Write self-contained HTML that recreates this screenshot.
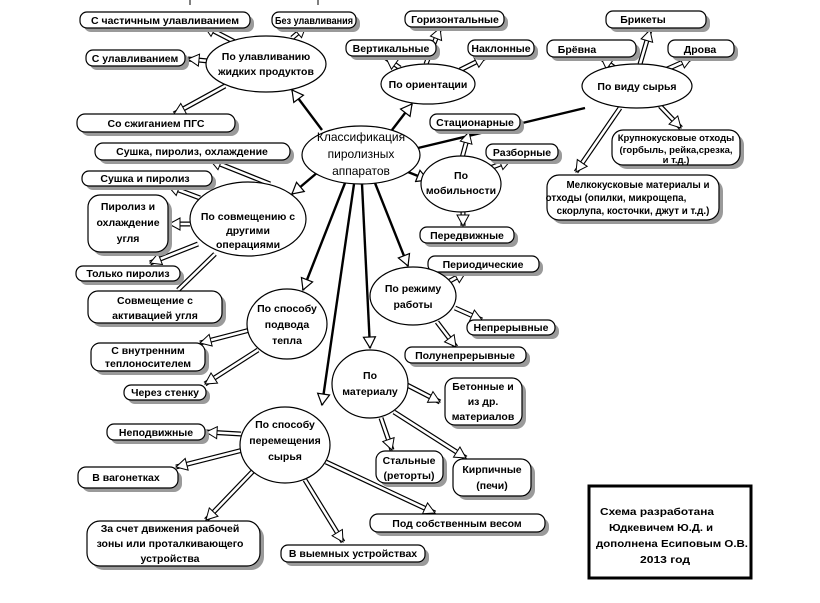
<!DOCTYPE html>
<html><head><meta charset="utf-8"><style>
body{margin:0;background:#fff}
svg{display:block}
text{font-family:"Liberation Sans","DejaVu Sans",sans-serif;font-weight:bold;font-size:10.5px;fill:#000;text-anchor:middle}
.sh{fill:#9a9a9a}
.bx{fill:#fff;stroke:#000;stroke-width:1.2}
.el{fill:#fff;stroke:#000;stroke-width:1.2}
.k{stroke:#000;stroke-width:2.4;fill:none}
.o{stroke:#000;stroke-width:5;fill:none}
.i{stroke:#fff;stroke-width:2.6;fill:none}
</style></head><body>
<svg width="820" height="603" viewBox="0 0 820 603" xmlns="http://www.w3.org/2000/svg">
<defs>
<marker id="h" markerUnits="userSpaceOnUse" markerWidth="14" markerHeight="14" refX="12" refY="7" orient="auto">
<path d="M1,1 L12,7 L1,13 Z" fill="#fff" stroke="#000" stroke-width="1"/></marker>
<marker id="b" markerUnits="userSpaceOnUse" markerWidth="14" markerHeight="14" refX="12" refY="7" orient="auto">
<path d="M1,1 L12,7 L1,13 Z" fill="#fff" stroke="#000" stroke-width="1.2"/></marker>
</defs>
<line x1="190" y1="0" x2="190" y2="5" stroke="#000"/>
<line x1="318" y1="0" x2="318" y2="5" stroke="#000"/>

<g class="k">
<line x1="322" y1="130" x2="292" y2="90" marker-end="url(#b)"/>
<line x1="392" y1="130" x2="412" y2="104" marker-end="url(#b)"/>
<line x1="418" y1="148" x2="585" y2="108"/>
<line x1="408" y1="172" x2="428" y2="180" marker-end="url(#b)"/>
<line x1="318" y1="172" x2="292" y2="194" marker-end="url(#b)"/>
<line x1="345" y1="183" x2="303" y2="290" marker-end="url(#b)"/>
<line x1="354" y1="184" x2="322" y2="405" marker-end="url(#b)"/>
<line x1="362" y1="184" x2="370" y2="348" marker-end="url(#b)"/>
<line x1="375" y1="183" x2="408" y2="266" marker-end="url(#b)"/>
</g>

<g>
<line class="o" x1="235" y1="42" x2="204" y2="26"/><line class="i" x1="235" y1="42" x2="204" y2="26" marker-end="url(#h)"/>
<line class="o" x1="292" y1="38" x2="306" y2="26"/><line class="i" x1="292" y1="38" x2="306" y2="26" marker-end="url(#h)"/>
<line class="o" x1="208" y1="61" x2="188" y2="59"/><line class="i" x1="208" y1="61" x2="188" y2="59" marker-end="url(#h)"/>
<line class="o" x1="225" y1="86" x2="174" y2="114"/><line class="i" x1="225" y1="86" x2="174" y2="114" marker-end="url(#h)"/>
<line class="o" x1="400" y1="68" x2="386" y2="58"/><line class="i" x1="400" y1="68" x2="386" y2="58" marker-end="url(#h)"/>
<line class="o" x1="426" y1="64" x2="440" y2="28"/><line class="i" x1="426" y1="64" x2="440" y2="28" marker-end="url(#h)"/>
<line class="o" x1="460" y1="70" x2="486" y2="57"/><line class="i" x1="460" y1="70" x2="486" y2="57" marker-end="url(#h)"/>
<line class="o" x1="615" y1="68" x2="601" y2="58"/><line class="i" x1="615" y1="68" x2="601" y2="58" marker-end="url(#h)"/>
<line class="o" x1="640" y1="64" x2="650" y2="30"/><line class="i" x1="640" y1="64" x2="650" y2="30" marker-end="url(#h)"/>
<line class="o" x1="665" y1="70" x2="692" y2="58"/><line class="i" x1="665" y1="70" x2="692" y2="58" marker-end="url(#h)"/>
<line class="o" x1="660" y1="106" x2="681" y2="128"/><line class="i" x1="660" y1="106" x2="681" y2="128" marker-end="url(#h)"/>
<line class="o" x1="620" y1="108" x2="576" y2="172"/><line class="i" x1="620" y1="108" x2="576" y2="172" marker-end="url(#h)"/>
<line class="o" x1="462" y1="158" x2="469" y2="132"/><line class="i" x1="462" y1="158" x2="469" y2="132" marker-end="url(#h)"/>
<line class="o" x1="490" y1="168" x2="511" y2="160"/><line class="i" x1="490" y1="168" x2="511" y2="160" marker-end="url(#h)"/>
<line class="o" x1="463" y1="212" x2="463" y2="226"/><line class="i" x1="463" y1="212" x2="463" y2="226" marker-end="url(#h)"/>
<line class="o" x1="270" y1="184" x2="210" y2="160"/><line class="i" x1="270" y1="184" x2="210" y2="160" marker-end="url(#h)"/>
<line class="o" x1="200" y1="198" x2="168" y2="186"/><line class="i" x1="200" y1="198" x2="168" y2="186" marker-end="url(#h)"/>
<line class="o" x1="190" y1="224" x2="169" y2="224"/><line class="i" x1="190" y1="224" x2="169" y2="224" marker-end="url(#h)"/>
<line class="o" x1="198" y1="244" x2="150" y2="263"/><line class="i" x1="198" y1="244" x2="150" y2="263" marker-end="url(#h)"/>
<line class="o" x1="215" y1="254" x2="178" y2="290"/>
<line class="i" x1="215" y1="254" x2="178" y2="290"/>
<line class="o" x1="250" y1="330" x2="200" y2="343"/><line class="i" x1="250" y1="330" x2="200" y2="343" marker-end="url(#h)"/>
<line class="o" x1="258" y1="350" x2="205" y2="384"/><line class="i" x1="258" y1="350" x2="205" y2="384" marker-end="url(#h)"/>
<line class="o" x1="448" y1="282" x2="466" y2="272"/><line class="i" x1="448" y1="282" x2="466" y2="272" marker-end="url(#h)"/>
<line class="o" x1="455" y1="308" x2="482" y2="320"/><line class="i" x1="455" y1="308" x2="482" y2="320" marker-end="url(#h)"/>
<line class="o" x1="437" y1="322" x2="456" y2="347"/><line class="i" x1="437" y1="322" x2="456" y2="347" marker-end="url(#h)"/>
<line class="o" x1="407" y1="385" x2="440" y2="402"/><line class="i" x1="407" y1="385" x2="440" y2="402" marker-end="url(#h)"/>
<line class="o" x1="381" y1="418" x2="392" y2="450"/><line class="i" x1="381" y1="418" x2="392" y2="450" marker-end="url(#h)"/>
<line class="o" x1="394" y1="412" x2="466" y2="458"/><line class="i" x1="394" y1="412" x2="466" y2="458" marker-end="url(#h)"/>
<line class="o" x1="241" y1="434" x2="206" y2="432"/><line class="i" x1="241" y1="434" x2="206" y2="432" marker-end="url(#h)"/>
<line class="o" x1="243" y1="450" x2="176" y2="467"/><line class="i" x1="243" y1="450" x2="176" y2="467" marker-end="url(#h)"/>
<line class="o" x1="256" y1="468" x2="206" y2="520"/><line class="i" x1="256" y1="468" x2="206" y2="520" marker-end="url(#h)"/>
<line class="o" x1="305" y1="480" x2="343" y2="542"/><line class="i" x1="305" y1="480" x2="343" y2="542" marker-end="url(#h)"/>
<line class="o" x1="326" y1="462" x2="435" y2="513"/><line class="i" x1="326" y1="462" x2="435" y2="513" marker-end="url(#h)"/>
</g>

<g>
<rect class="sh" x="84" y="16" width="170" height="16" rx="7"/><rect class="bx" x="80" y="12" width="170" height="16" rx="7"/><text x="165" y="24">С частичным улавливанием</text>
<rect class="sh" x="276" y="16" width="84" height="16" rx="7"/><rect class="bx" x="272" y="12" width="84" height="16" rx="7"/><text x="314" y="24" textLength="78" lengthAdjust="spacingAndGlyphs">Без улавливания</text>
<rect class="sh" x="90" y="54" width="99" height="16" rx="7"/><rect class="bx" x="86" y="50" width="99" height="16" rx="7"/><text x="135" y="62">С улавливанием</text>
<rect class="sh" x="81" y="118" width="158" height="18" rx="8"/><rect class="bx" x="77" y="114" width="158" height="18" rx="8"/><text x="156" y="127">Со сжиганием ПГС</text>
<rect class="sh" x="99" y="147" width="195" height="17" rx="8"/><rect class="bx" x="95" y="143" width="195" height="17" rx="8"/><text x="192" y="155">Сушка, пиролиз, охлаждение</text>
<rect class="sh" x="86" y="175" width="130" height="15" rx="7"/><rect class="bx" x="82" y="171" width="130" height="15" rx="7"/><text x="145" y="182">Сушка и пиролиз</text>
<rect class="sh" x="92" y="199" width="80" height="57" rx="12"/><rect class="bx" x="88" y="195" width="80" height="57" rx="12"/><text x="128" y="210">Пиролиз и</text><text x="128" y="226">охлаждение</text><text x="128" y="242">угля</text>
<rect class="sh" x="80" y="270" width="104" height="15" rx="7"/><rect class="bx" x="76" y="266" width="104" height="15" rx="7"/><text x="128" y="277">Только пиролиз</text>
<rect class="sh" x="92" y="295" width="134" height="32" rx="10"/><rect class="bx" x="88" y="291" width="134" height="32" rx="10"/><text x="155" y="304">Совмещение с</text><text x="155" y="319">активацией угля</text>
<rect class="sh" x="95" y="347" width="114" height="28" rx="9"/><rect class="bx" x="91" y="343" width="114" height="28" rx="9"/><text x="148" y="354">С внутренним</text><text x="148" y="367">теплоносителем</text>
<rect class="sh" x="128" y="389" width="82" height="15" rx="7"/><rect class="bx" x="124" y="385" width="82" height="15" rx="7"/><text x="165" y="396">Через стенку</text>
<rect class="sh" x="111" y="428" width="98" height="16" rx="7"/><rect class="bx" x="107" y="424" width="98" height="16" rx="7"/><text x="156" y="436">Неподвижные</text>
<rect class="sh" x="82" y="471" width="100" height="21" rx="8"/><rect class="bx" x="78" y="467" width="100" height="21" rx="8"/><text x="126" y="481">В вагонетках</text>
<rect class="sh" x="91" y="525" width="173" height="45" rx="13"/><rect class="bx" x="87" y="521" width="173" height="45" rx="13"/><text x="170" y="532">За счет движения рабочей</text><text x="170" y="547">зоны или проталкивающего</text><text x="170" y="562">устройства</text>
<rect class="sh" x="285" y="549" width="144" height="17" rx="7"/><rect class="bx" x="281" y="545" width="144" height="17" rx="7"/><text x="353" y="557">В выемных устройствах</text>
<rect class="sh" x="374" y="518" width="175" height="18" rx="8"/><rect class="bx" x="370" y="514" width="175" height="18" rx="8"/><text x="457" y="527">Под собственным весом</text>
<rect class="sh" x="380" y="455" width="67" height="32" rx="9"/><rect class="bx" x="376" y="451" width="67" height="32" rx="9"/><text x="409" y="464">Стальные</text><text x="409" y="479">(реторты)</text>
<rect class="sh" x="457" y="463" width="78" height="37" rx="10"/><rect class="bx" x="453" y="459" width="78" height="37" rx="10"/><text x="492" y="473">Кирпичные</text><text x="492" y="489">(печи)</text>
<rect class="sh" x="449" y="382" width="77" height="47" rx="10"/><rect class="bx" x="445" y="378" width="77" height="47" rx="10"/><text x="483" y="390">Бетонные и</text><text x="483" y="405">из др.</text><text x="483" y="420">материалов</text>
<rect class="sh" x="409" y="351" width="121" height="16" rx="7"/><rect class="bx" x="405" y="347" width="121" height="16" rx="7"/><text x="465" y="359">Полунепрерывные</text>
<rect class="sh" x="471" y="324" width="88" height="15" rx="7"/><rect class="bx" x="467" y="320" width="88" height="15" rx="7"/><text x="511" y="331">Непрерывные</text>
<rect class="sh" x="432" y="260" width="111" height="16" rx="7"/><rect class="bx" x="428" y="256" width="111" height="16" rx="7"/><text x="483" y="268">Периодические</text>
<rect class="sh" x="424" y="231" width="94" height="16" rx="7"/><rect class="bx" x="420" y="227" width="94" height="16" rx="7"/><text x="467" y="239">Передвижные</text>
<rect class="sh" x="490" y="148" width="72" height="16" rx="7"/><rect class="bx" x="486" y="144" width="72" height="16" rx="7"/><text x="522" y="156">Разборные</text>
<rect class="sh" x="434" y="118" width="90" height="16" rx="7"/><rect class="bx" x="430" y="114" width="90" height="16" rx="7"/><text x="475" y="126">Стационарные</text>
<rect class="sh" x="409" y="15" width="99" height="16" rx="7"/><rect class="bx" x="405" y="11" width="99" height="16" rx="7"/><text x="455" y="23">Горизонтальные</text>
<rect class="sh" x="350" y="44" width="90" height="16" rx="7"/><rect class="bx" x="346" y="40" width="90" height="16" rx="7"/><text x="391" y="52">Вертикальные</text>
<rect class="sh" x="472" y="44" width="66" height="16" rx="7"/><rect class="bx" x="468" y="40" width="66" height="16" rx="7"/><text x="501" y="52">Наклонные</text>
<rect class="sh" x="610" y="15" width="100" height="17" rx="7"/><rect class="bx" x="606" y="11" width="100" height="17" rx="7"/><text x="643" y="23">Брикеты</text>
<rect class="sh" x="551" y="44" width="89" height="17" rx="7"/><rect class="bx" x="547" y="40" width="89" height="17" rx="7"/><text x="577" y="53">Брёвна</text>
<rect class="sh" x="672" y="44" width="66" height="17" rx="7"/><rect class="bx" x="668" y="40" width="66" height="17" rx="7"/><text x="700" y="53">Дрова</text>
<rect class="sh" x="616" y="134" width="128" height="35" rx="11"/><rect class="bx" x="612" y="130" width="128" height="35" rx="11"/>
<text x="676" y="141" style="font-size:9.5px">Крупнокусковые отходы</text><text x="676" y="153" style="font-size:9.5px">(горбыль, рейка,срезка,</text><text x="676" y="163" style="font-size:9.5px">и т.д.)</text>
<rect class="sh" x="551" y="179" width="172" height="45" rx="12"/><rect class="bx" x="547" y="175" width="172" height="45" rx="12"/>
<text x="638" y="188" style="font-size:9.8px">Мелкокусковые материалы и</text><text x="616" y="201" style="font-size:9.8px">отходы (опилки, микрощепа,</text><text x="633" y="214" style="font-size:9.8px">скорлупа, косточки, джут и т.д.)</text>
</g>

<g>
<ellipse class="el" cx="266" cy="64" rx="60" ry="28"/><text x="266" y="60">По улавливанию</text><text x="266" y="75">жидких продуктов</text>
<ellipse class="el" cx="428" cy="84" rx="47" ry="20"/><text x="428" y="88">По ориентации</text>
<ellipse class="el" cx="637" cy="86" rx="55" ry="22"/><text x="637" y="90">По виду сырья</text>
<ellipse class="el" cx="361" cy="155" rx="59" ry="29"/>
<text x="361" y="141" style="font-weight:normal;font-size:12px">Классификация</text><text x="361" y="158" style="font-weight:normal;font-size:12px">пиролизных</text><text x="361" y="175" style="font-weight:normal;font-size:12px">аппаратов</text>
<ellipse class="el" cx="461" cy="184" rx="40" ry="28"/><text x="461" y="179">По</text><text x="461" y="194">мобильности</text>
<ellipse class="el" cx="248" cy="219" rx="58" ry="37"/><text x="248" y="220">По совмещению с</text><text x="248" y="234">другими</text><text x="248" y="248">операциями</text>
<ellipse class="el" cx="413" cy="296" rx="43" ry="29"/><text x="413" y="292">По режиму</text><text x="413" y="308">работы</text>
<ellipse class="el" cx="287" cy="324" rx="40" ry="35"/><text x="287" y="312">По способу</text><text x="287" y="328">подвода</text><text x="287" y="344">тепла</text>
<ellipse class="el" cx="370" cy="384" rx="38" ry="34"/><text x="370" y="379">По</text><text x="370" y="395">материалу</text>
<ellipse class="el" cx="285" cy="445" rx="45" ry="38"/><text x="285" y="428">По способу</text><text x="285" y="444">перемещения</text><text x="285" y="460">сырья</text>
</g>

<rect x="589" y="486" width="162" height="92" fill="#fff" stroke="#000" stroke-width="3"/>
<g style="font-size:11px">
<text x="657" y="515" textLength="114" lengthAdjust="spacingAndGlyphs">Схема разработана</text>
<text x="661" y="531" textLength="104" lengthAdjust="spacingAndGlyphs">Юдкевичем Ю.Д. и</text>
<text x="672" y="547" textLength="152" lengthAdjust="spacingAndGlyphs">дополнена Есиповым О.В.</text>
<text x="665" y="563" textLength="50" lengthAdjust="spacingAndGlyphs">2013 год</text>
</g>
</svg>
</body></html>
